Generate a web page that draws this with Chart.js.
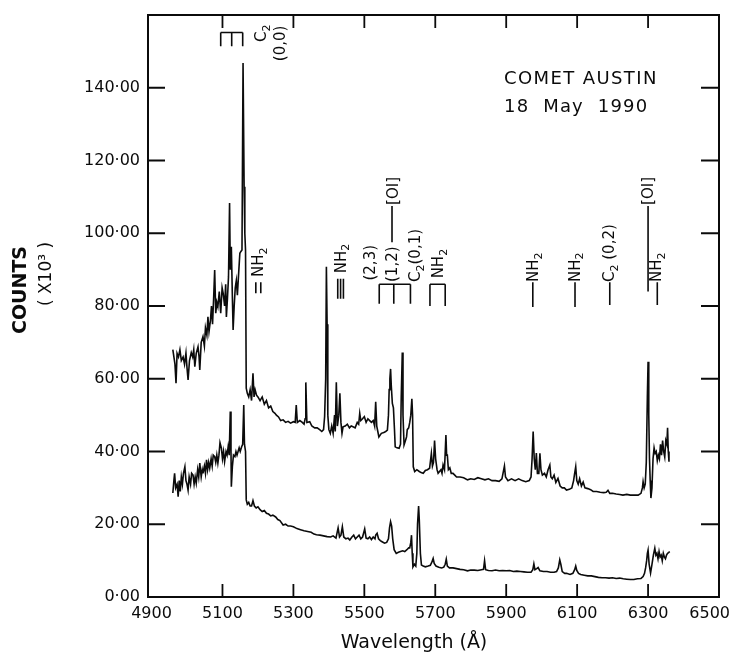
<!DOCTYPE html>
<html>
<head>
<meta charset="utf-8">
<title>Comet Austin - 18 May 1990</title>
<script src="https://cdn.jsdelivr.net/npm/chart.js@4.4.1/dist/chart.umd.min.js"></script>
<style>
  html, body { margin: 0; padding: 0; background: #fff; }
  #wrap { width: 732px; height: 659px; }
</style>
</head>
<body>
<div id="wrap"><canvas id="spectrum" width="732" height="659"></canvas></div>
<script>
// ---- DATA ----
const wavelengthTicks = [4900, 5100, 5300, 5500, 5700, 5900, 6100, 6300, 6500];
const countTicks = [0, 20, 40, 60, 80, 100, 120, 140];

// upper trace: [wavelength (A), counts x10^3]
const upperSpectrum = [
  [4960, 68], [4963, 66], [4966, 64], [4969, 58.8], [4972, 67], [4976, 66], [4980, 68], [4984, 65],
  [4989, 66], [4993, 64], [4997, 67], [5000, 63], [5003, 59.7], [5007, 65], [5012, 67.2], [5016, 66],
  [5019, 68], [5022, 63.3], [5026, 67], [5031, 68.8], [5034, 66], [5036, 62.4], [5040, 70], [5045, 71.6],
  [5049, 69], [5052, 74], [5056, 72], [5059, 77], [5062, 73], [5066, 76], [5069, 80], [5072, 75],
  [5075, 82], [5078, 89.9], [5081, 78], [5084, 81], [5087, 79.8], [5091, 84], [5095, 78], [5099, 85],
  [5102, 83.5], [5106, 80], [5109, 86], [5111, 77], [5114, 82], [5117, 88], [5120, 108.3], [5122, 90],
  [5125, 96.3], [5128, 82], [5130, 73.4], [5133, 80], [5136, 85], [5139, 87], [5142, 83], [5145, 88],
  [5149, 94.5], [5152, 95], [5155, 95.4], [5158, 146.8], [5161, 112.8], [5163, 100], [5165, 95.4], [5167, 57.4],
  [5170, 56], [5174, 55], [5178, 57], [5182, 54], [5186, 61.5], [5189, 55], [5192, 57], [5196, 55.5],
  [5200, 55], [5206, 54], [5212, 55], [5218, 53], [5224, 54], [5230, 52], [5236, 52.5], [5242, 51],
  [5248, 50.5], [5252, 50], [5258, 49.5], [5264, 48.5], [5271, 48.7], [5278, 48], [5285, 48.3], [5292, 47.8],
  [5300, 48.2], [5305, 48], [5308, 52.8], [5311, 48], [5318, 48.5], [5325, 48], [5330, 47.5], [5333, 49],
  [5335, 59], [5338, 48], [5346, 48.2], [5352, 47], [5360, 46.5], [5367, 46.5], [5374, 46], [5380, 45.5],
  [5385, 46], [5388, 49.6], [5391, 60], [5393, 90.8], [5395, 75], [5397, 50], [5400, 46], [5404, 45],
  [5408, 47], [5412, 45], [5416, 50], [5418, 45.5], [5421, 59], [5424, 47], [5428, 50], [5431, 56],
  [5434, 48], [5437, 45], [5440, 46.8], [5446, 47], [5452, 47.5], [5458, 46.5], [5463, 47], [5468, 46.8],
  [5474, 46.5], [5480, 48], [5484, 47.5], [5487, 50.5], [5490, 48.5], [5495, 49], [5500, 49.6], [5505, 48],
  [5510, 49], [5515, 48.5], [5520, 48], [5525, 48.5], [5529, 47], [5532, 53.7], [5535, 47], [5538, 45.5],
  [5541, 44], [5548, 45], [5555, 45.2], [5560, 45.5], [5565, 45.9], [5568, 50], [5570, 57], [5572, 60],
  [5574, 62.7], [5576, 58], [5579, 53.2], [5582, 52], [5585, 46], [5587, 41.3], [5592, 41], [5598, 40.9],
  [5602, 42], [5604, 55], [5607, 67.2], [5609, 50], [5612, 41.8], [5616, 43], [5619, 44], [5621, 46],
  [5625, 46.5], [5628, 48], [5631, 50], [5634, 54.5], [5636, 50], [5638, 35.8], [5642, 34.5], [5648, 35],
  [5655, 34.5], [5660, 34.2], [5666, 34], [5672, 34.8], [5678, 35], [5684, 35.4], [5689, 39.5], [5692, 36],
  [5695, 37], [5698, 43], [5701, 38], [5705, 35], [5708, 34], [5712, 34.5], [5716, 35], [5719, 34],
  [5722, 36.3], [5726, 35], [5730, 44.5], [5732, 39], [5734, 39], [5737, 35], [5741, 35.5], [5745, 34],
  [5750, 34], [5755, 33.5], [5760, 33], [5770, 33], [5780, 32.8], [5791, 32.2], [5800, 32.5], [5810, 32.3],
  [5820, 32.8], [5830, 32.5], [5840, 32.2], [5850, 32.5], [5860, 32], [5870, 32], [5880, 31.8], [5888, 32.5],
  [5895, 36], [5898, 33], [5905, 32], [5915, 32.5], [5925, 32], [5935, 32.5], [5945, 32], [5955, 31.7],
  [5965, 32], [5970, 33], [5973, 38], [5976, 45.5], [5979, 38], [5982, 35], [5985, 39.6], [5988, 34],
  [5992, 34], [5995, 39.5], [5998, 35], [6002, 33.5], [6008, 34], [6013, 33], [6018, 35], [6023, 36.3],
  [6026, 33], [6030, 32.5], [6035, 33.5], [6040, 31.5], [6046, 32.6], [6052, 30.5], [6058, 30], [6064, 30],
  [6070, 29.4], [6078, 29.6], [6085, 30], [6090, 32], [6093, 34], [6096, 35.8], [6099, 32], [6103, 31],
  [6107, 32.5], [6112, 30.5], [6117, 31.6], [6122, 30], [6130, 29.8], [6138, 29.5], [6145, 29], [6155, 29],
  [6165, 28.8], [6175, 28.7], [6182, 28.8], [6187, 29.3], [6192, 28.5], [6200, 28.5], [6210, 28.3], [6220, 28.2],
  [6229, 28], [6240, 28.2], [6250, 28], [6260, 28], [6272, 28], [6280, 28.5], [6284, 30], [6286, 31.7],
  [6289, 30], [6292, 31], [6295, 37], [6298, 55], [6300, 64.7], [6302, 50], [6304, 38], [6306, 32],
  [6308, 27.2], [6311, 30], [6314, 38], [6317, 41], [6320, 39.5], [6323, 40], [6326, 37.5], [6329, 39],
  [6332, 38], [6335, 42], [6338, 39], [6341, 43], [6344, 40], [6347, 38.5], [6350, 43], [6353, 42],
  [6355, 46.5], [6357, 40], [6359, 37.2]
];

// lower trace: [wavelength (A), counts x10^3]
const lowerSpectrum = [
  [4960, 28.6], [4963, 32], [4965, 34], [4968, 30], [4972, 31], [4975, 27.6], [4978, 32], [4981, 29],
  [4984, 33], [4987, 31], [4990, 34], [4994, 35.8], [4997, 32], [5000, 31], [5003, 29.4], [5006, 33],
  [5010, 31], [5013, 34], [5017, 33.5], [5020, 31], [5023, 33], [5026, 31.3], [5030, 35], [5033, 33],
  [5036, 36.8], [5040, 33], [5043, 35], [5045, 34], [5049, 36], [5052, 34], [5055, 37.7], [5058, 35],
  [5061, 37], [5064, 35.4], [5068, 38], [5071, 36], [5074, 39], [5078, 38.6], [5081, 37], [5084, 39],
  [5087, 36.8], [5090, 39], [5093, 42.4], [5097, 40.9], [5100, 38], [5103, 40], [5106, 37.2], [5110, 40],
  [5113, 39], [5116, 41.3], [5119, 39], [5122, 51], [5124, 40], [5125, 30.3], [5128, 36], [5131, 39],
  [5135, 38.6], [5138, 40], [5141, 39], [5144, 40], [5147, 41], [5150, 40], [5154, 41.3], [5157, 42],
  [5160, 52.8], [5162, 42], [5165, 40], [5167, 26.7], [5170, 25.5], [5174, 26], [5178, 25], [5182, 25],
  [5186, 26.5], [5190, 25], [5195, 24.5], [5200, 24.8], [5206, 24], [5212, 23.5], [5218, 23.8], [5224, 23],
  [5230, 22.8], [5236, 22.3], [5242, 22.5], [5250, 22], [5256, 21.3], [5262, 21], [5271, 19.8], [5278, 20],
  [5285, 19.5], [5292, 19.5], [5300, 19.3], [5310, 18.8], [5320, 18.5], [5330, 18.2], [5340, 18], [5350, 17.8],
  [5358, 17.3], [5365, 17.1], [5375, 17], [5385, 16.8], [5395, 16.6], [5405, 16.5], [5412, 16.8], [5420, 16.2],
  [5426, 19], [5430, 16.5], [5434, 17], [5438, 19.3], [5442, 16.5], [5448, 16], [5454, 16.2], [5459, 15.7],
  [5465, 16.5], [5470, 17], [5475, 16], [5480, 16.5], [5485, 17], [5490, 16], [5495, 16.5], [5501, 18.7],
  [5505, 16.2], [5510, 16], [5515, 16.5], [5520, 15.8], [5525, 16.5], [5530, 16], [5532, 17], [5536, 17.5],
  [5540, 16], [5545, 15.5], [5550, 15.2], [5557, 14.8], [5563, 15], [5568, 16], [5571, 19], [5574, 20.7],
  [5577, 19.5], [5580, 16], [5584, 13], [5590, 12], [5596, 12.3], [5602, 12.5], [5608, 12.7], [5614, 12.5],
  [5620, 13], [5625, 13.5], [5628, 13.5], [5631, 15], [5633, 17], [5635, 12], [5637, 8.3], [5641, 9],
  [5645, 8.5], [5648, 12], [5650, 20], [5653, 25], [5655, 21], [5658, 12], [5661, 8.8], [5666, 8.5],
  [5672, 8.3], [5680, 8.5], [5686, 8.7], [5690, 9.5], [5694, 10.6], [5697, 9.2], [5702, 8.5], [5710, 8.2],
  [5718, 8], [5724, 8.2], [5728, 9], [5731, 10.4], [5734, 8.5], [5740, 8], [5750, 8], [5760, 7.8],
  [5770, 7.6], [5780, 7.5], [5791, 7.2], [5800, 7.4], [5810, 7.4], [5820, 7.3], [5830, 7.5], [5836, 7.6],
  [5839, 10], [5842, 7.5], [5850, 7.3], [5860, 7.2], [5870, 7.4], [5880, 7.2], [5890, 7.3], [5900, 7.2],
  [5910, 7.3], [5920, 7], [5930, 7.1], [5940, 7], [5950, 6.9], [5960, 6.8], [5970, 6.8], [5975, 7.5],
  [5978, 9.1], [5981, 7.5], [5986, 7.8], [5990, 8.1], [5995, 7.2], [6005, 7], [6015, 7], [6025, 6.8],
  [6035, 6.8], [6042, 7], [6047, 8], [6051, 10.2], [6054, 9], [6058, 7], [6065, 6.5], [6070, 6.5],
  [6080, 6.2], [6088, 6.5], [6093, 7.5], [6096, 8.5], [6099, 7.3], [6104, 6.5], [6110, 6.2], [6120, 6],
  [6130, 5.8], [6140, 5.8], [6150, 5.6], [6160, 5.4], [6170, 5.3], [6180, 5.3], [6190, 5.2], [6200, 5.3],
  [6210, 5.1], [6220, 5.2], [6230, 5], [6240, 4.9], [6250, 4.8], [6260, 4.8], [6270, 5], [6280, 5.1],
  [6286, 5.6], [6290, 6.5], [6293, 8], [6296, 10], [6298, 12], [6300, 12.9], [6303, 9], [6307, 6.6],
  [6311, 9], [6315, 11.5], [6319, 13.4], [6322, 11.5], [6325, 12], [6328, 10.5], [6331, 12.5], [6334, 11],
  [6337, 11.5], [6340, 10], [6343, 12], [6346, 11], [6349, 10.5], [6352, 11.5], [6355, 12], [6358, 12.2],
  [6361, 12.5]
];

// ---- LINE IDENTIFICATIONS (wavelength, counts units) ----
const INK = '#0b0b0b';
const FONT = '"DejaVu Sans", sans-serif';

// band-head brackets: a bar with legs dropping at each head
const brackets = [
  { legs: [5095, 5126, 5157], top: 155.2, foot: 151.4 },
  { legs: [5542, 5583, 5630], top: 86.0, foot: 80.6 },
  { legs: [5685, 5728], top: 86.0, foot: 80.0 }
];
// short marker strokes below single-line labels
const markStrokes = [
  { at: 5194, from: 86.5, to: 83.5 }, { at: 5208, from: 86.5, to: 83.5 },
  { at: 5425, from: 87.5, to: 82.0 }, { at: 5433, from: 87.5, to: 82.0 }, { at: 5441, from: 87.5, to: 82.0 },
  { at: 5578, from: 107.5, to: 97.5 },
  { at: 5975, from: 86.5, to: 79.7 },
  { at: 6094, from: 86.5, to: 79.7 },
  { at: 6192, from: 86.5, to: 80.3 },
  { at: 6300, from: 107.5, to: 84.0 },
  { at: 6326, from: 86.5, to: 80.3 }
];
// rotated labels, '_x' marks a subscript; at = centre wavelength, base = lower end
const lineLabels = [
  { text: 'C_2', at: 5212, base: 152.6 },
  { text: '(0,0)', at: 5264, base: 147.3 },
  { text: 'NH_2', at: 5203, base: 88.0 },
  { text: 'NH_2', at: 5436, base: 89.0 },
  { text: '(2,3)', at: 5519, base: 87.0 },
  { text: '(1,2)', at: 5580, base: 86.6 },
  { text: '[OI]', at: 5584, base: 107.8 },
  { text: 'C_2(0,1)', at: 5646, base: 86.6 },
  { text: 'NH_2', at: 5712, base: 87.6 },
  { text: 'NH_2', at: 5978, base: 86.6 },
  { text: 'NH_2', at: 6096, base: 86.6 },
  { text: 'C_2 (0,2)', at: 6194, base: 86.6 },
  { text: '[OI]', at: 6302, base: 107.8 },
  { text: 'NH_2', at: 6326, base: 86.6 }
];

// ---- DRAW HELPERS ----
function splitSubs(text) {
  const parts = [];
  let buf = '';
  for (let i = 0; i < text.length; i++) {
    if (text[i] === '_') {
      if (buf) parts.push({ t: buf });
      buf = '';
      parts.push({ t: text[i + 1], sub: true });
      i++;
    } else {
      buf += text[i];
    }
  }
  if (buf) parts.push({ t: buf });
  return parts;
}

// text reading bottom-to-top, centred on x
function drawVertical(ctx, x, yBottom, text, size) {
  ctx.save();
  ctx.translate(x, yBottom);
  ctx.rotate(-Math.PI / 2);
  ctx.textBaseline = 'middle';
  ctx.textAlign = 'left';
  let pos = 0;
  splitSubs(text).forEach(p => {
    const s = p.sub ? Math.round(size * 0.72) : size;
    ctx.font = s + 'px ' + FONT;
    ctx.fillText(p.t, pos, p.sub ? size * 0.32 : 0);
    pos += ctx.measureText(p.t).width;
  });
  ctx.restore();
}

function spacedText(ctx, text, x, y, spacing) {
  let pos = x;
  for (const ch of text) {
    ctx.fillText(ch, pos, y);
    pos += ctx.measureText(ch).width + spacing;
  }
}

// ---- FRAME, INWARD TICKS, TITLES, IDENTIFICATIONS ----
const frameAndLabels = {
  id: 'frameAndLabels',
  afterDraw(chart) {
    const { ctx, chartArea: a, scales: { x, y } } = chart;
    const W = chart.width;
    ctx.save();
    ctx.strokeStyle = INK;
    ctx.fillStyle = INK;

    ctx.lineWidth = 2;
    ctx.strokeRect(a.left, a.top, a.right - a.left, a.bottom - a.top);

    ctx.lineWidth = 1.8;
    ctx.beginPath();
    wavelengthTicks.forEach(v => {
      if (v <= 4900 || v >= 6500) return;
      const px = x.getPixelForValue(v);
      ctx.moveTo(px, a.bottom); ctx.lineTo(px, a.bottom - 13);
      ctx.moveTo(px, a.top); ctx.lineTo(px, a.top + 13);
    });
    countTicks.forEach(v => {
      if (v <= 0) return;
      const py = y.getPixelForValue(v);
      ctx.moveTo(a.left, py); ctx.lineTo(a.left + 17, py);
      ctx.moveTo(a.right, py); ctx.lineTo(a.right - 18, py);
    });
    ctx.stroke();

    // wavelength labels, kept inside the canvas at the right end
    ctx.font = '16px ' + FONT;
    ctx.textAlign = 'center';
    ctx.textBaseline = 'top';
    wavelengthTicks.forEach(v => {
      const label = String(v);
      const half = ctx.measureText(label).width / 2;
      let px = x.getPixelForValue(v);
      if (px + half > W - 2) px = W - 2 - half;
      ctx.fillText(label, px, a.bottom + 9);
    });

    // identifications
    ctx.lineWidth = 1.6;
    ctx.beginPath();
    brackets.forEach(b => {
      const xs = b.legs.map(v => x.getPixelForValue(v));
      const top = y.getPixelForValue(b.top);
      const foot = y.getPixelForValue(b.foot);
      ctx.moveTo(xs[0], top); ctx.lineTo(xs[xs.length - 1], top);
      xs.forEach(px => { ctx.moveTo(px, top); ctx.lineTo(px, foot); });
    });
    markStrokes.forEach(m => {
      const px = x.getPixelForValue(m.at);
      ctx.moveTo(px, y.getPixelForValue(m.from));
      ctx.lineTo(px, y.getPixelForValue(m.to));
    });
    ctx.stroke();

    lineLabels.forEach(l => {
      drawVertical(ctx, x.getPixelForValue(l.at), y.getPixelForValue(l.base), l.text, 15);
    });

    // object and date
    ctx.textAlign = 'left';
    ctx.textBaseline = 'alphabetic';
    ctx.font = '18px ' + FONT;
    spacedText(ctx, 'COMET AUSTIN', 504, 84, 1.4);
    spacedText(ctx, '18  May  1990', 504, 112, 1.2);

    // axis titles
    ctx.textAlign = 'center';
    ctx.font = '19px ' + FONT;
    ctx.fillText('Wavelength (Å)', 414, 648);

    ctx.save();
    ctx.translate(21, 290);
    ctx.rotate(-Math.PI / 2);
    ctx.textBaseline = 'middle';
    ctx.font = 'bold 19px ' + FONT;
    ctx.fillText('COUNTS', 0, 0);
    ctx.restore();

    ctx.save();
    ctx.translate(47, 274);
    ctx.rotate(-Math.PI / 2);
    ctx.textBaseline = 'middle';
    ctx.font = '17px ' + FONT;
    ctx.fillText('( X10³ )', 0, 0);
    ctx.restore();

    ctx.restore();
  }
};

// ---- CHART ----
const traceStyle = {
  showLine: true,
  borderColor: INK,
  borderWidth: 1.6,
  pointRadius: 0,
  fill: false,
  tension: 0
};

new Chart(document.getElementById('spectrum'), {
  type: 'scatter',
  data: {
    datasets: [
      Object.assign({ label: 'upper', data: upperSpectrum.map(([x, y]) => ({ x, y })) }, traceStyle),
      Object.assign({ label: 'lower', data: lowerSpectrum.map(([x, y]) => ({ x, y })) }, traceStyle)
    ]
  },
  options: {
    responsive: false,
    animation: false,
    devicePixelRatio: 1,
    layout: { padding: { left: 0, right: 13, top: 15, bottom: 0 } },
    plugins: { legend: { display: false }, tooltip: { enabled: false } },
    scales: {
      x: {
        type: 'linear',
        min: 4890,
        max: 6500,
        afterBuildTicks: s => { s.ticks = wavelengthTicks.map(v => ({ value: v })); },
        afterFit: s => { s.height = 62; s.paddingLeft = 0; s.paddingRight = 0; },
        grid: { display: false, drawTicks: false },
        border: { display: false },
        ticks: { display: false }
      },
      y: {
        type: 'linear',
        min: 0,
        max: 160,
        afterBuildTicks: s => { s.ticks = countTicks.map(v => ({ value: v })); },
        afterFit: s => { s.width = 148; s.paddingTop = 0; s.paddingBottom = 0; },
        grid: { display: false, drawTicks: false },
        border: { display: false },
        ticks: {
          padding: 8,
          color: INK,
          autoSkip: false,
          font: { family: FONT, size: 16 },
          callback: v => v.toFixed(2).replace('.', '·')
        }
      }
    }
  },
  plugins: [frameAndLabels]
});
</script>
</body>
</html>
